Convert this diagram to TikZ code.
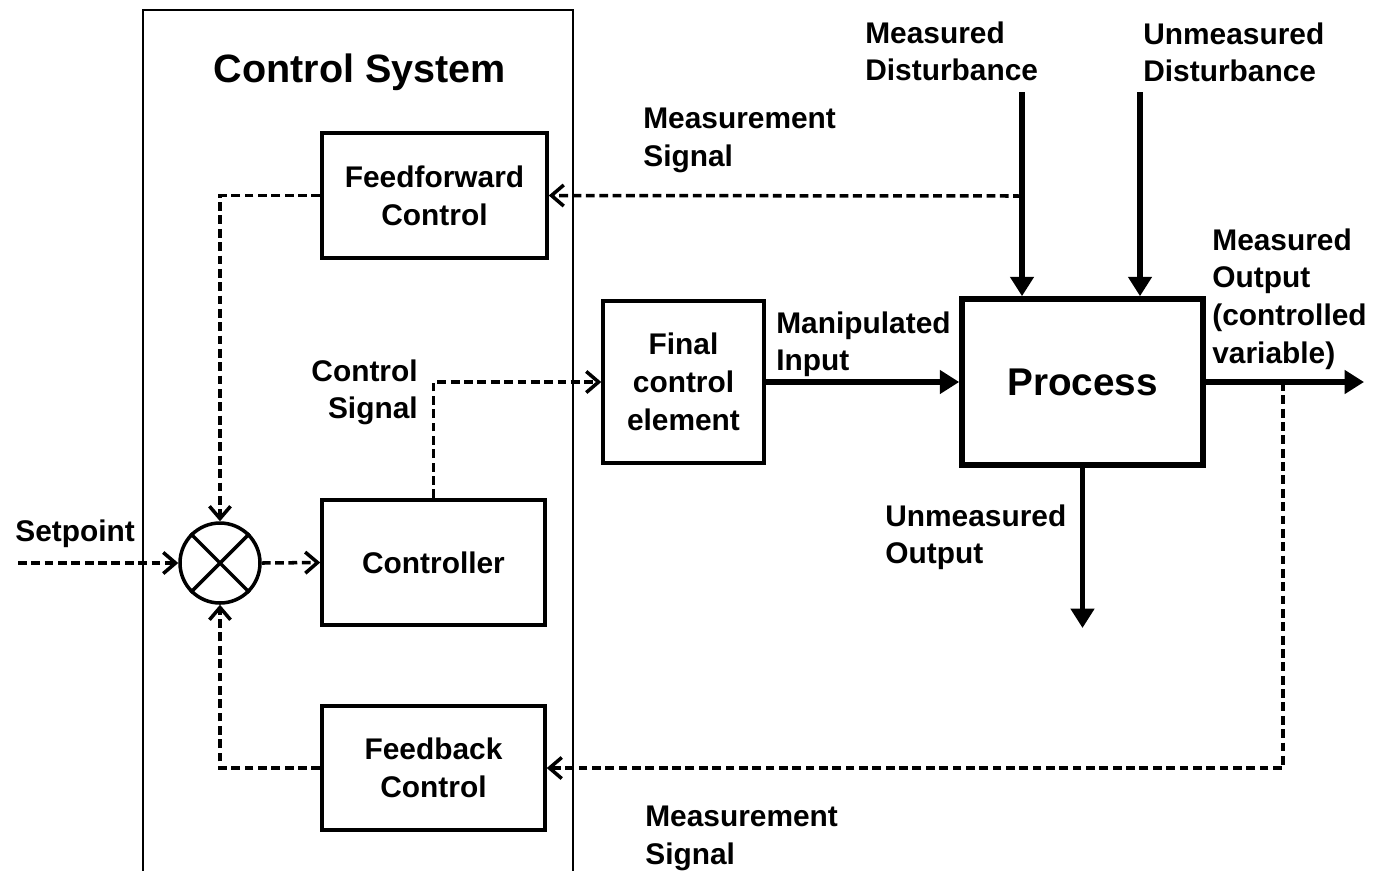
\documentclass[tikz,border=0pt]{standalone}
\usepackage{fontspec}
\setmainfont{Liberation Sans}
\usetikzlibrary{arrows.meta}
\begin{document}
\begin{tikzpicture}[x=0.02cm,y=-0.02cm,
  lbl/.style={font=\fontsize{17}{21.5}\selectfont\bfseries, inner sep=0pt, align=left},
  blk/.style={draw, line width=2pt, font=\fontsize{17}{21.5}\selectfont\bfseries, align=center, inner sep=0pt},
  dasharrow/.style={line width=2pt, dash pattern=on 5pt off 2.6pt, -{Straight Barb[length=7pt,width=12pt,line width=2pt]}},
  solidarrow/.style={line width=3.2pt, -{Triangle[length=11pt,width=13pt]}},
  frame/.style={line width=1pt}
]
\useasboundingbox (0,0) rectangle (1381,870);
% control system frame
\draw[frame] (143,872) -- (143,10) -- (573,10) -- (573,872);
\node[lbl, font=\fontsize{22.5}{27}\selectfont\bfseries] (cstitle) at (360,72) {Control System};

% blocks
\node[blk, minimum width=225*0.02cm, minimum height=125*0.02cm] (ff) at (434.5,195.5) {Feedforward\\Control};
\node[blk, minimum width=223*0.02cm, minimum height=125*0.02cm] (ctrl) at (433.5,562.5) {Controller};
\node[blk, minimum width=223*0.02cm, minimum height=124*0.02cm] (fb) at (433.5,768) {Feedback\\Control};
\node[draw, circle, line width=2pt, minimum size=80*0.02cm, inner sep=0pt] (sum) at (220,563) {};
\draw[line width=2pt] (sum.45) -- (sum.225) (sum.135) -- (sum.315);
\node[blk, minimum width=161*0.02cm, minimum height=162*0.02cm] (fce) at (683.5,382) {Final\\control\\element};
\node[draw, line width=3.2pt, minimum width=241*0.02cm, minimum height=166*0.02cm, inner sep=0pt,
      font=\fontsize{22}{26}\selectfont\bfseries] (proc) at (1082.5,382) {Process};

% labels
\node[lbl, anchor=north west] (setl) at (15,519) {Setpoint};
\node[lbl, anchor=north east, align=right] (csl) at (418,359) {Control\\Signal};
\node[lbl, anchor=north west] (mil) at (776,311) {Manipulated\\Input};
\node[lbl, anchor=north west] (ms1) at (643,108) {Measurement\\Signal};
\node[lbl, anchor=north west] (ms2) at (645,806) {Measurement\\Signal};
\node[lbl, anchor=north west] (mdl) at (865,21) {Measured\\Disturbance};
\node[lbl, anchor=north west] (udl) at (1143,22) {Unmeasured\\Disturbance};
\node[lbl, anchor=north west] (mol) at (1212,228) {Measured\\Output\\(controlled\\variable)};
\node[lbl, anchor=north west] (uol) at (885,504) {Unmeasured\\Output};

% coordinates
\coordinate (sp) at (18,563);
\coordinate (md) at (1022,92);
\coordinate (mdtap) at (1022,196);
\coordinate (ud) at (1140,92);
\coordinate (out) at (1364,382);
\coordinate (tap) at (1283,382);
\coordinate (uo) at (1082.5,628);

% connectors
\draw[dasharrow] (sp) -- (sum.west);
\draw[dasharrow] (ff.west) -| (sum.north);
\draw[dasharrow] (fb.west) -| (sum.south);
\draw[dasharrow] (sum.east) -- (ctrl.west);
\draw[dasharrow] (ctrl.north) |- (fce.west);
\draw[solidarrow] (fce.east) -- (proc.west);
\draw[solidarrow] (md) -- (md |- proc.north);
\draw[solidarrow] (ud) -- (ud |- proc.north);
\draw[dasharrow] (mdtap) -- (ff.east);
\draw[solidarrow] (proc.east) -- (out);
\draw[dasharrow] (tap) |- (fb.east);
\draw[solidarrow] (proc.south) -- (uo);
\end{tikzpicture}
\end{document}
